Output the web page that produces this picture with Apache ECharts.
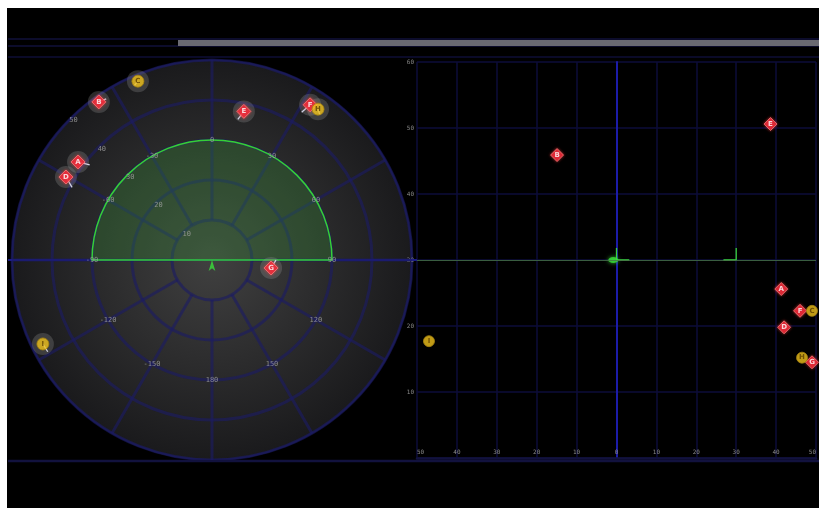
<!DOCTYPE html>
<html><head><meta charset="utf-8">
<script src="https://cdn.jsdelivr.net/npm/echarts@6/dist/echarts.min.js"></script>
<style>html,body{margin:0;padding:0;background:#fff;}#c{width:819px;height:508px;}</style>
</head><body><div id="c"></div><script>
// ---- data ----
const ids        = ['A','B','C','D','E','F','G','H','I'];
const kinds      = ['hostile','hostile','unknown','hostile','hostile','hostile','hostile','unknown','unknown'];
const polarRange = [41.5, 48.6, 48.4, 42.0, 38.0, 45.9, 14.9, 46.1, 47.2];
const polarBearing = [-53.8, -35.6, -22.5, -60.4, 12.1, 32.3, 97.7, 35.1, -116.4];
const vecHeading = [104, 67, 219, 149, 217, 229, 32, 162, 148];
const vecLength  = [3.0, 2.0, 1.5, 3.0, 2.5, 2.8, 2.3, 1.5, 2.3];
const planX      = [41.3, -14.9, 49.0, 42.0, 38.6, 46.0, 49.0, 46.5, -47.0];
const planY      = [25.6, 45.9, 22.3, 19.8, 50.6, 22.3, 14.5, 15.2, 17.7];
const angleTicks = [-150,-120,-90,-60,-30,0,30,60,90,120,150,180];
const radiusTicks = [10,20,30,40,50];
const sectorRange = 30, sectorFrom = -90, sectorTo = 90;
const gateX = [0, 30], gateY = 30;

// ---- layout ----
const CX = 212, CY = 260, R = 200;
const NAVY = 'rgba(28,28,100,0.62)';

const chart = echarts.init(document.getElementById('c'), null, {renderer:'canvas'});

function items(kind, xs, ys){
  const out = [];
  ids.forEach((id,i)=>{ if(kinds[i]===kind) out.push({name:id, value:[xs[i], ys[i]]}); });
  return out;
}
const redStyle = {color:'#f02a3c', borderColor:'rgba(255,130,130,0.9)', borderWidth:1, shadowBlur:3, shadowColor:'rgba(255,60,60,0.8)'};
const yelStyle = {color:'#f0c21c', borderColor:'#a88410', borderWidth:1};
const redLabel = {show:true, position:'inside', formatter:'{b}', fontSize:7, fontWeight:'bold', color:'#fff', fontFamily:'DejaVu Sans'};
const yelLabel = {show:true, position:'inside', formatter:'{b}', fontSize:7, fontWeight:'bold', color:'#5a3c00', fontFamily:'DejaVu Sans'};
const tickFont = {fontSize:7, color:'#a4a4a4', fontFamily:'DejaVu Sans Mono'};

const option = {
  backgroundColor:'#ffffff',
  animation:false,
  graphic:[
    {type:'rect', z:-20, shape:{x:7,y:8,width:812,height:500}, style:{fill:'#000'}},
    {type:'circle', z:-10, shape:{cx:CX,cy:CY,r:R}, style:{
      fill:{type:'radial', x:0.5, y:0.5, r:0.5, colorStops:[{offset:0,color:'#404040'},{offset:1,color:'#1a1a1c'}]},
      stroke:'#1a1a48', lineWidth:1.5}},
    {type:'line', z:1, shape:{x1:8,y1:39,x2:819,y2:39}, style:{stroke:'#10103a', lineWidth:1.5}},
    {type:'line', z:1, shape:{x1:8,y1:46,x2:819,y2:46}, style:{stroke:'#10103a', lineWidth:1.5}},
    {type:'rect', z:2, shape:{x:178,y:40,width:641,height:6}, style:{fill:'#6a6a72'}},
    {type:'line', z:1, shape:{x1:8,y1:57,x2:819,y2:57}, style:{stroke:'#0e0e36', lineWidth:1.5}},
    {type:'line', z:1, shape:{x1:8,y1:461,x2:819,y2:461}, style:{stroke:'#12123e', lineWidth:2.5}},
    {type:'line', z:1, shape:{x1:8,y1:CY,x2:417,y2:CY}, style:{stroke:'#1c1c84', lineWidth:2}}
  ],
  polar:{center:[CX,CY], radius:R},
  angleAxis:{type:'value', min:-180, max:180, interval:30, startAngle:270, clockwise:true,
    axisLine:{show:false}, axisTick:{show:false}, axisLabel:{show:false}, splitLine:{show:false}},
  radiusAxis:{type:'value', min:0, max:50, interval:10, axisLine:{show:false}, axisTick:{show:false},
    axisLabel:{show:false}, splitLine:{show:true, lineStyle:{color:NAVY, width:3}}},
  grid:{left:417, right:0, top:62, bottom:50},
  xAxis:{type:'value', min:-50, max:50, interval:10,
    axisLine:{show:true, onZero:false, lineStyle:{color:'#12123e', width:2.5}}, axisTick:{show:false},
    axisLabel:{inside:true, margin:3, fontSize:6, color:'#8a8a8a', fontFamily:'DejaVu Sans Mono',
      alignMinLabel:'left', alignMaxLabel:'right', formatter:v=>String(Math.abs(v))},
    splitLine:{show:true, lineStyle:{color:'#0c0c3a', width:1.5}}},
  yAxis:{type:'value', min:0, max:60, interval:10,
    axisLine:{show:true, onZero:true, lineStyle:{color:'#1c1ca8', width:2}}, axisTick:{show:false},
    axisLabel:{margin:3, fontSize:6, color:'#8a8a8a', fontFamily:'DejaVu Sans Mono', formatter:v=>v===0?'':String(v)},
    splitLine:{show:true, lineStyle:{color:'#0c0c3a', width:1.5}}},
  series:[
    // radial grid lines
    {type:'custom', coordinateSystem:'polar', z:1, silent:true,
      data: angleTicks.map(a=>[50,a]),
      renderItem:(p, api)=>{
        const a = api.value(1);
        const p0 = api.coord([10,a]), p1 = api.coord([50,a]);
        return {type:'line', shape:{x1:p0[0],y1:p0[1],x2:p1[0],y2:p1[1]}, style:{stroke:NAVY, lineWidth:3}};
      }},
    // green sector
    {type:'custom', coordinateSystem:'polar', z:1.5, silent:true,
      data:[[sectorRange, sectorFrom, sectorTo]],
      renderItem:(p, api)=>{
        const c = api.coord([0,0]);
        const r = api.value(0);
        const pa = api.coord([r, api.value(1)]), pb = api.coord([r, api.value(2)]);
        const rad = Math.hypot(pa[0]-c[0], pa[1]-c[1]);
        let s = Math.atan2(pa[1]-c[1], pa[0]-c[0]);
        let e = Math.atan2(pb[1]-c[1], pb[0]-c[0]);
        if (e <= s) e += Math.PI*2;
        return {type:'sector', shape:{cx:c[0], cy:c[1], r0:0, r:rad, startAngle:s, endAngle:e, clockwise:true},
          style:{fill:'rgba(55,160,55,0.26)', stroke:'#36d036', lineWidth:1.5}};
      }},
    // radius tick labels
    {type:'scatter', coordinateSystem:'polar', z:3, silent:true, symbol:'circle', symbolSize:1,
      itemStyle:{color:'rgba(0,0,0,0)'},
      data: radiusTicks.map(v=>[v,-45]),
      label:Object.assign({show:true, position:'inside', offset:[3,2], formatter:p=>String(p.value[0])}, tickFont)},
    // angle tick labels
    {type:'scatter', coordinateSystem:'polar', z:3, silent:true, symbol:'circle', symbolSize:1,
      itemStyle:{color:'rgba(0,0,0,0)'},
      data: angleTicks.map(a=>[sectorRange,a]),
      label:Object.assign({show:true, position:'inside', formatter:p=>String(p.value[1])}, tickFont)},
    // halos and velocity vectors
    {type:'custom', coordinateSystem:'polar', z:3, silent:true,
      data: ids.map((id,i)=>[polarRange[i], polarBearing[i], vecHeading[i], vecLength[i]]),
      renderItem:(p, api)=>{
        const pt = api.coord([api.value(0), api.value(1)]);
        const c = api.coord([0,0]), u = api.coord([1,0]);
        const unit = Math.hypot(u[0]-c[0], u[1]-c[1]);
        const h = api.value(2)*Math.PI/180, L = api.value(3)*unit;
        return {type:'group', children:[
          {type:'circle', shape:{cx:pt[0], cy:pt[1], r:11}, style:{fill:'rgba(150,150,150,0.28)'}},
          {type:'line', shape:{x1:pt[0], y1:pt[1], x2:pt[0]+Math.sin(h)*L, y2:pt[1]-Math.cos(h)*L},
            style:{stroke:'#d0d0e4', lineWidth:1.3}}
        ]};
      }},
    // ownship (polar)
    {type:'scatter', coordinateSystem:'polar', z:4, silent:true, symbol:'arrow', symbolSize:[5,11],
      itemStyle:{color:'#3be03b'}, data:[[0,0]]},
    // polar contacts
    {type:'scatter', coordinateSystem:'polar', z:5, symbol:'diamond', symbolSize:14,
      itemStyle:redStyle, label:redLabel, data: items('hostile', polarRange, polarBearing)},
    {type:'scatter', coordinateSystem:'polar', z:5, symbol:'circle', symbolSize:12,
      itemStyle:yelStyle, label:yelLabel, data: items('unknown', polarRange, polarBearing)},
    // gate brackets on cartesian view
    {type:'line', z:3, silent:true, symbol:'none', lineStyle:{color:'#3ad23a', width:1.3},
      data:[[gateX[0], gateY+1.8],[gateX[0], gateY],[gateX[0]+3.2, gateY]],
      markLine:{silent:true, symbol:'none', label:{show:false}, lineStyle:{color:'rgba(70,115,70,0.8)', width:1, type:'solid'},
        data:[{yAxis:gateY}]}},
    {type:'line', z:3, silent:true, symbol:'none', lineStyle:{color:'#3ad23a', width:1.3},
      data:[[gateX[1], gateY+1.8],[gateX[1], gateY],[gateX[1]-3.2, gateY]]},
    {type:'scatter', z:4, silent:true, symbol:'circle', symbolSize:[10,6],
      itemStyle:{color:'#3be03b', shadowBlur:4, shadowColor:'#3be03b'}, data:[[gateX[0]-0.8, gateY]]},
    // cartesian contacts
    {type:'scatter', z:5, symbol:'diamond', symbolSize:13,
      itemStyle:redStyle, label:redLabel, data: items('hostile', planX, planY)},
    {type:'scatter', z:5, symbol:'circle', symbolSize:11,
      itemStyle:yelStyle, label:yelLabel, data: items('unknown', planX, planY)}
  ]
};
chart.setOption(option);
</script></body></html>
